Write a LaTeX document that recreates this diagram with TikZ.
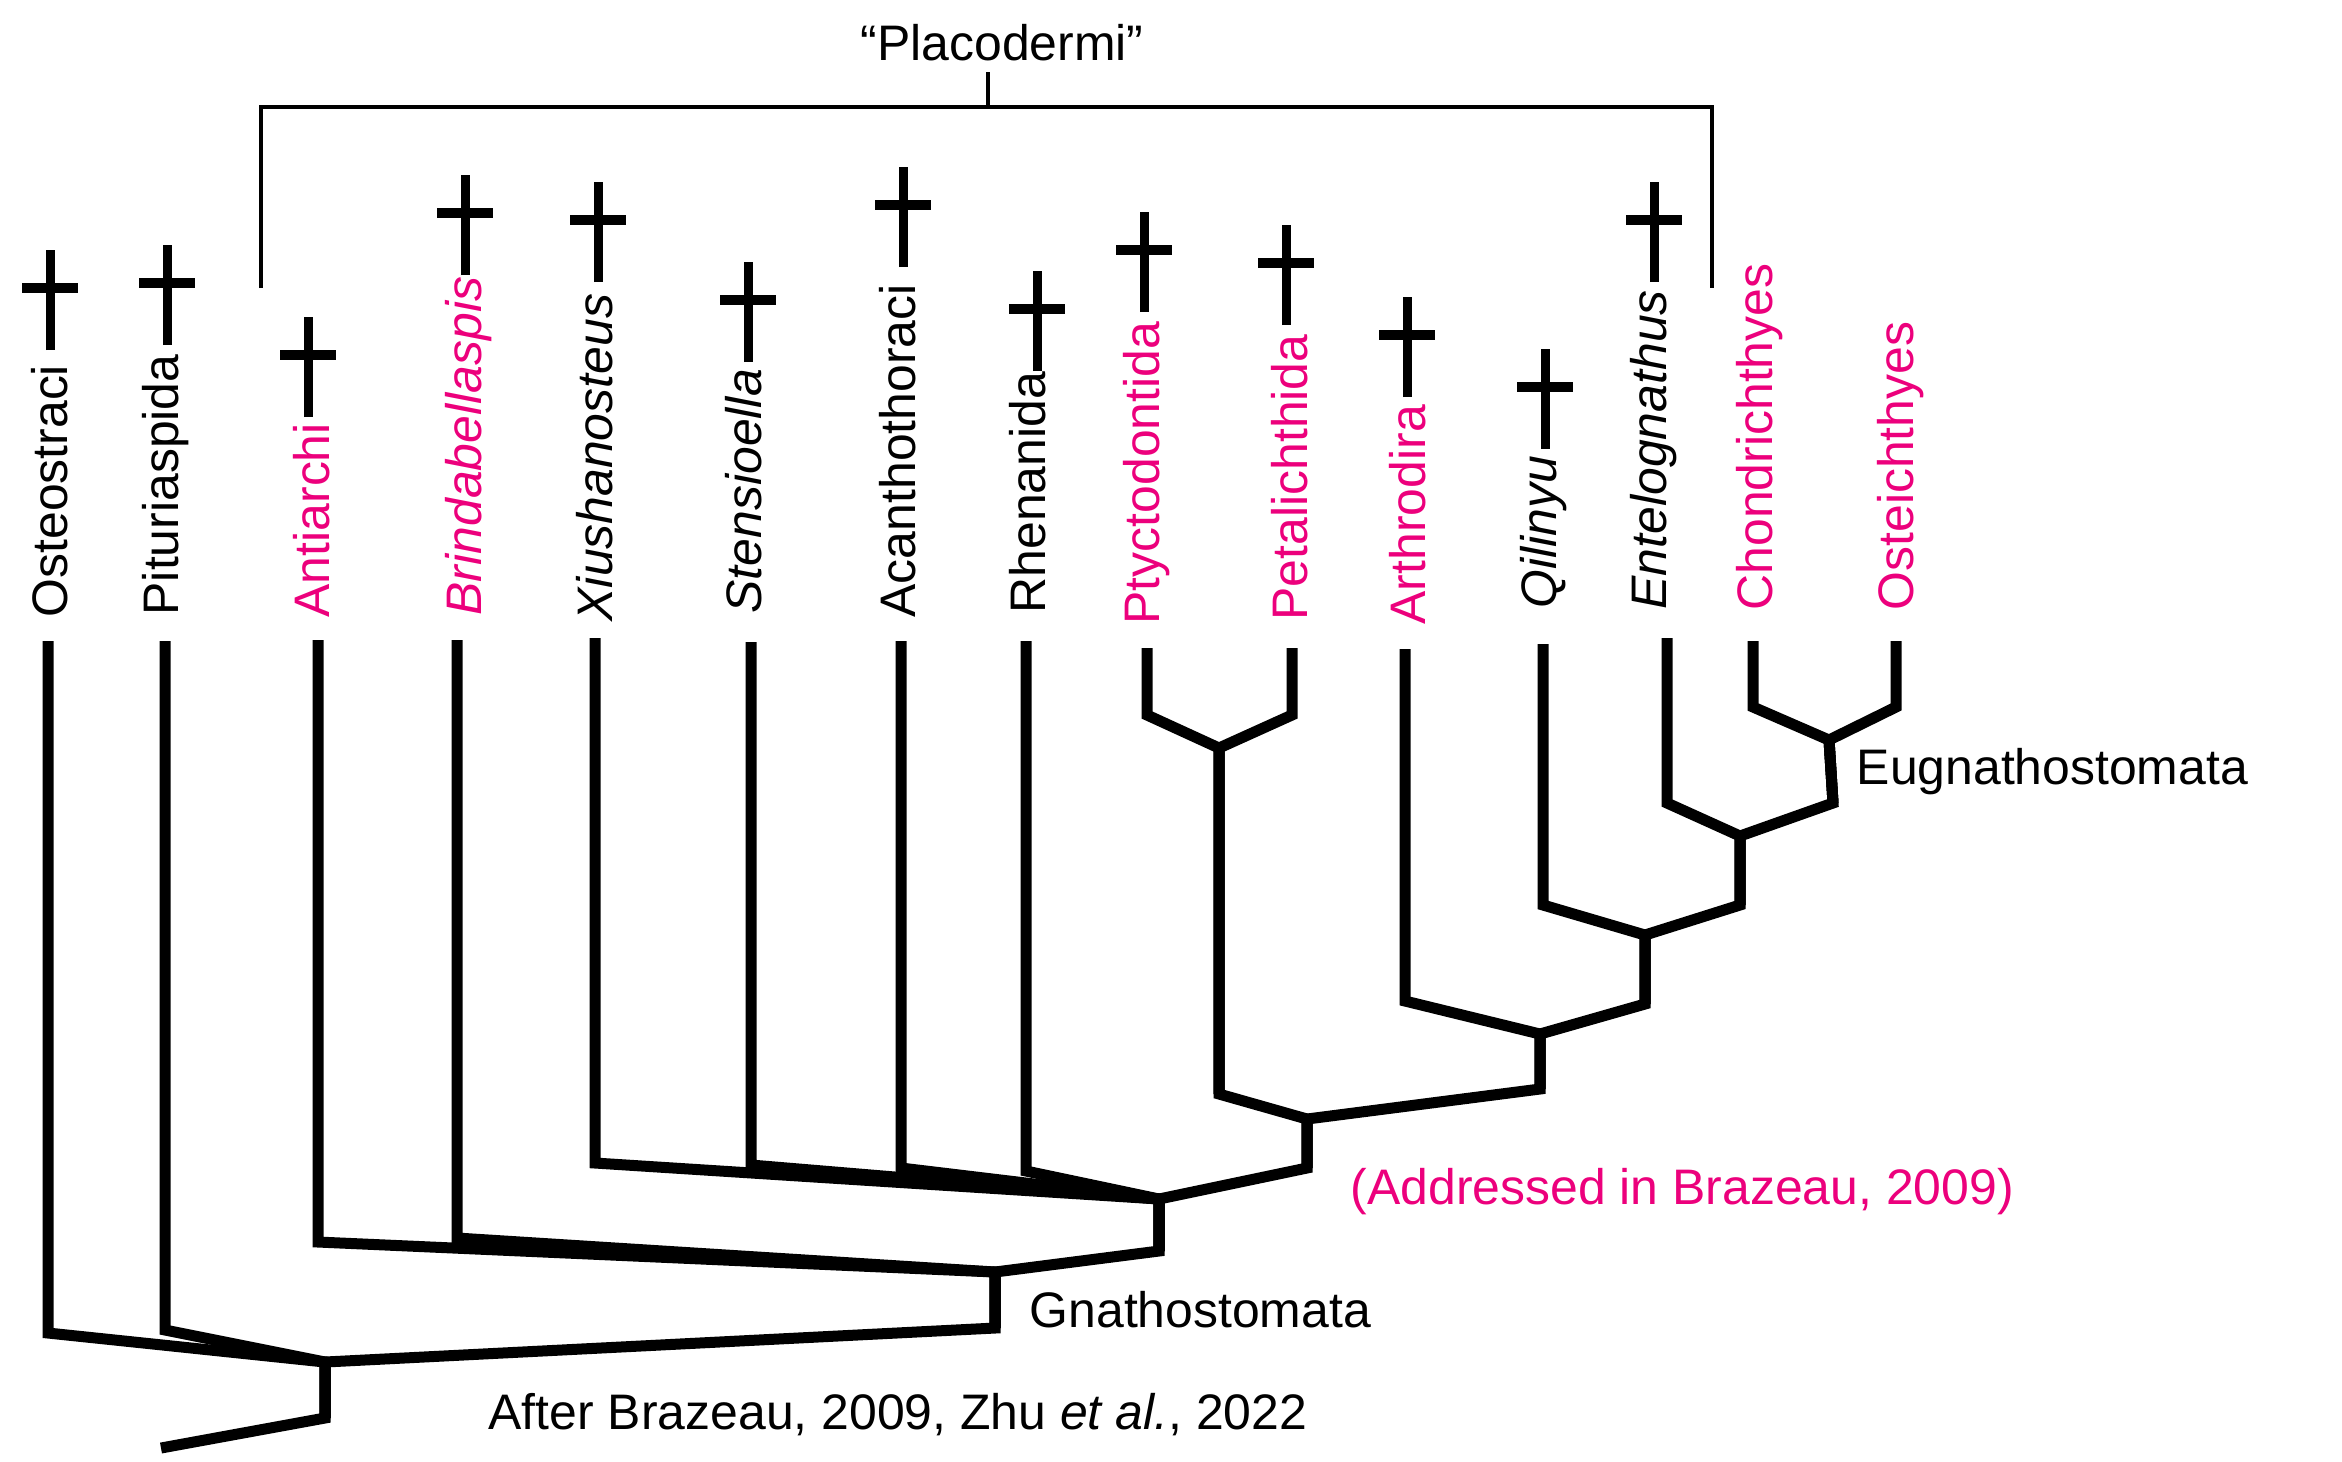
\documentclass[tikz,border=0pt]{standalone}
\usepackage{fontspec}
\setmainfont{Liberation Sans}
\usetikzlibrary{positioning}
\definecolor{taxpink}{RGB}{236,0,124}
\newcommand{\taxfont}{\fontsize{14.2}{17}\selectfont}

\tikzset{
	branch/.style={line width=1.1mm, line join=miter},
	bracket/.style={line width=0.45mm},
	extinct/.pic={
		\draw[line width=0.9mm] (0,0) -- (0,-100);
		\draw[line width=0.95mm] (-28,-62) -- (28,-62);
	}
}

\begin{document}
\begin{tikzpicture}[x=0.1mm, y=-0.1mm, font=\taxfont]
	\useasboundingbox (0,0) rectangle (2342,1461);
	% tips and corners
	\coordinate (ost-t) at (48,641);   \coordinate (ost-c) at (48,1333);
	\coordinate (pit-t) at (165,641);  \coordinate (pit-c) at (165,1330);
	\coordinate (ant-t) at (318,640);  \coordinate (ant-c) at (318,1242);
	\coordinate (bri-t) at (457,640);  \coordinate (bri-c) at (457,1238);
	\coordinate (xiu-t) at (595,638);  \coordinate (xiu-c) at (595,1163);
	\coordinate (ste-t) at (751,642);  \coordinate (ste-c) at (751,1165);
	\coordinate (aca-t) at (901,641);  \coordinate (aca-c) at (901,1168);
	\coordinate (rhe-t) at (1026,641); \coordinate (rhe-c) at (1026,1171);
	\coordinate (pty-t) at (1147,648); \coordinate (pty-c) at (1147,715);
	\coordinate (pet-t) at (1292,648); \coordinate (pet-c) at (1292,715);
	\coordinate (art-t) at (1405,649); \coordinate (art-c) at (1405,1001);
	\coordinate (qil-t) at (1543,644); \coordinate (qil-c) at (1543,905);
	\coordinate (ent-t) at (1667,638); \coordinate (ent-c) at (1667,803);
	\coordinate (cho-t) at (1753,641); \coordinate (cho-c) at (1753,707);
	\coordinate (ose-t) at (1896,641); \coordinate (ose-c) at (1896,707);
	% clade nodes
	\coordinate (R) at (325,1362);  \coordinate (R-s) at (325,1418); \coordinate (root) at (161,1448);
	\coordinate (G) at (995,1272);  \coordinate (G-s) at (995,1328);
	\coordinate (H) at (1159,1199); \coordinate (H-s) at (1159,1251);
	\coordinate (I) at (1307,1119); \coordinate (I-s) at (1307,1168);
	\coordinate (J) at (1219,748);  \coordinate (J-s) at (1219,1094);
	\coordinate (K) at (1540,1034); \coordinate (K-s) at (1540,1089);
	\coordinate (L) at (1645,935);  \coordinate (L-s) at (1645,1004);
	\coordinate (M) at (1740,836);  \coordinate (M-s) at (1740,905);
	\coordinate (N) at (1829,740);  \coordinate (N-s) at (1833,803);

	\begin{scope}[every node/.style={rotate=90, anchor=base west, inner sep=0pt}]
		\node (ost) at (67,618) {Osteostraci};
		\node (pit) at (178,616) {Pituriaspida};
		\node[taxpink] (ant) at (329,618) {Antiarchi};
		\node[taxpink] (bri) at (481,616) {\itshape Brindabellaspis};
		\node (xiu) at (612,622) {\itshape Xiushanosteus};
		\node (ste) at (761,614) {\itshape Stensioella};
		\node (aca) at (915,618) {Acanthothoraci};
		\node (rhe) at (1045,614) {Rhenanida};
		\node[taxpink] (pty) at (1159,625) {Ptyctodontida};
		\node[taxpink] (pet) at (1307,621) {Petalichthida};
		\node[taxpink] (art) at (1425,625) {Arthrodira};
		\node (qil) at (1556,609) {\itshape Qilinyu};
		\node (ent) at (1666,610) {\itshape Entelognathus};
		\node[taxpink] (cho) at (1772,611) {Chondrichthyes};
		\node[taxpink] (ose) at (1913,611) {Osteichthyes};
	\end{scope}

	% extinct taxa
	\pic at (50,350) {extinct};
	\pic at (167,345) {extinct};
	\pic at (308,417) {extinct};
	\pic at (465,275) {extinct};
	\pic at (598,282) {extinct};
	\pic at (748,362) {extinct};
	\pic at (903,267) {extinct};
	\pic at (1037,371) {extinct};
	\pic at (1144,312) {extinct};
	\pic at (1286,325) {extinct};
	\pic at (1407,397) {extinct};
	\pic at (1545,449) {extinct};
	\pic at (1654,282) {extinct};

	\begin{scope}[branch]
		\draw (ost-t) -- (ost-c) -- (R) -- (R-s);
		\draw (pit-t) -- (pit-c) -- (R) -- (R-s);
		\draw (ant-t) -- (ant-c) -- (G) -- (G-s);
		\draw (bri-t) -- (bri-c) -- (G) -- (G-s);
		\draw (xiu-t) -- (xiu-c) -- (H) -- (H-s);
		\draw (ste-t) -- (ste-c) -- (H) -- (H-s);
		\draw (aca-t) -- (aca-c) -- (H) -- (H-s);
		\draw (rhe-t) -- (rhe-c) -- (H) -- (H-s);
		\draw (pty-t) -- (pty-c) -- (J) -- (J-s);
		\draw (pet-t) -- (pet-c) -- (J) -- (J-s);
		\draw (art-t) -- (art-c) -- (K) -- (K-s);
		\draw (qil-t) -- (qil-c) -- (L) -- (L-s);
		\draw (ent-t) -- (ent-c) -- (M) -- (M-s);
		\draw (cho-t) -- (cho-c) -- (N) -- (N-s);
		\draw (ose-t) -- (ose-c) -- (N) -- (N-s);
		\draw (N) -- (N-s) -- (M) -- (M-s);
		\draw (M) -- (M-s) -- (L) -- (L-s);
		\draw (L) -- (L-s) -- (K) -- (K-s);
		\draw (K) -- (K-s) -- (I) -- (I-s);
		\draw (J) -- (J-s) -- (I) -- (I-s);
		\draw (I) -- (I-s) -- (H) -- (H-s);
		\draw (H) -- (H-s) -- (G) -- (G-s);
		\draw (G) -- (G-s) -- (R) -- (R-s);
		\draw (R) -- (R-s) -- (root);
	\end{scope}

	% group labels
	\node[anchor=base, inner sep=1.1mm] (placo) at (1002,60) {“Placodermi”};
	\draw[bracket] (261,288) -- (261,107) -- (1712,107) -- (1712,288);
	\draw[bracket] (988,107) -- (placo.south -| 988,107);
	\node[anchor=base west, inner sep=0pt] (gna) at (1029,1327) {Gnathostomata};
	\node[anchor=base west, inner sep=0pt] (eug) at (1856,784) {Eugnathostomata};
	\node[anchor=base west, inner sep=0pt, taxpink] (brz) at (1350,1204) {(Addressed in Brazeau, 2009)};
	\node[anchor=base west, inner sep=0pt] (src) at (488,1429) {After Brazeau, 2009, Zhu \textit{et al.}, 2022};
\end{tikzpicture}
\end{document}
